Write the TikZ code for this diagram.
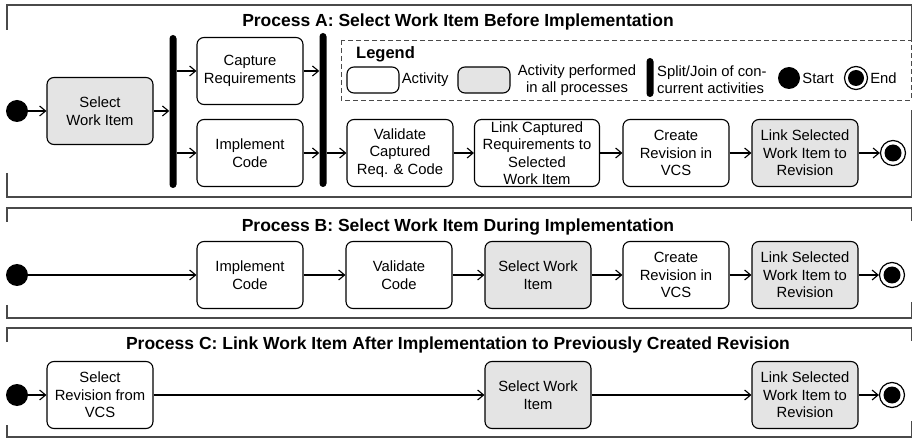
\documentclass[tikz,border=0pt]{standalone}
\usepackage{fontspec}
\setmainfont{Liberation Sans}
\usetikzlibrary{arrows.meta}
\definecolor{actgray}{HTML}{E4E4E4}
\definecolor{framegray}{HTML}{4A4A4A}
\begin{document}
\begin{tikzpicture}[x=1pt,y=-1pt,>={Straight Barb[length=6pt,width=10pt]}] % activity diagrams
\tikzstyle{act} = [draw, rounded corners=7pt, line width=1.1pt, minimum width=106pt, minimum height=67pt, align=center, inner sep=1pt, font=\fontsize{14.8}{17.5}\selectfont] % activity node style
\tikzstyle{allact} = [act, fill=actgray] % activity performed in all processes
\tikzstyle{bar} = [fill, rounded corners=3.5pt, minimum width=7pt, inner sep=0pt] % split/join bar
\tikzstyle{startdot} = [circle, fill, minimum size=22pt, inner sep=0pt] % start node style
\tikzstyle{enddot} = [circle, draw, line width=1.2pt, minimum size=25pt, inner sep=0pt, path picture={\fill (path picture bounding box.center) circle (8.5pt);}] % end node style
\tikzstyle{proctitle} = [font=\bfseries\fontsize{17.5}{21}\selectfont] % process title
\tikzstyle{legtext} = [font=\fontsize{14.8}{17}\selectfont, inner sep=2pt]
\tikzstyle{frame} = [draw=framegray, line width=1.3pt]
\tikzstyle{flow} = [->, line width=1.1pt]
\useasboundingbox (0,0) rectangle (913,438);

% frames
\draw[frame] (7,30) -- (7,5) -- (911.5,5) -- (911.5,40);
\draw[frame] (7,173) -- (7,197) -- (911.5,197) -- (911.5,110);
\draw[frame] (7,222) -- (7,208) -- (911.5,208) -- (911.5,221);
\draw[frame] (7,305) -- (7,318) -- (911.5,318) -- (911.5,302);
\draw[frame] (7,342) -- (7,328) -- (911.5,328) -- (911.5,341);
\draw[frame] (7,425) -- (7,437) -- (911.5,437) -- (911.5,421);

% Process A
\node[proctitle] (titlea) at (458,22) {Process A: Select Work Item Before Implementation};
\node[startdot] (a0) at (17,111) {};
\node[allact] (aselect) at (100,111) {Select\\Work Item};
\node[bar, minimum height=153pt] (asplit) at (173,111.5) {};
\node[act] (acapture) at (250,71) {Capture\\Requirements};
\node[act] (aimpl) at (250,153) {Implement\\Code};
\node[bar, minimum height=154pt] (ajoin) at (323,110) {};
\node[act] (avalid) at (400,153) {Validate\\Captured\\Req. \& Code};
\node[act, minimum width=125pt] (alink) at (537,153) {Link Captured\\Requirements to\\Selected\\Work Item};
\node[act] (arev) at (676,153) {Create\\Revision in\\VCS};
\node[allact] (alinksel) at (805,153) {Link Selected\\Work Item to\\Revision};
\node[enddot] (aend) at (893,153) {};

\draw[flow] (a0) -- (aselect);
\draw[flow] (aselect.east) -- (aselect.east -| asplit.west);
\draw[flow] (acapture.west -| asplit.east) -- (acapture.west);
\draw[flow] (aimpl.west -| asplit.east) -- (aimpl.west);
\draw[flow] (acapture.east) -- (acapture.east -| ajoin.west);
\draw[flow] (aimpl.east) -- (aimpl.east -| ajoin.west);
\draw[flow] (avalid.west -| ajoin.east) -- (avalid.west);
\draw[flow] (avalid) -- (alink);
\draw[flow] (alink) -- (arev);
\draw[flow] (arev) -- (alinksel);
\draw[flow] (alinksel) -- (aend);

% legend
\draw[dashed, dash pattern=on 5pt off 3pt, line width=0.9pt, framegray] (341,40) rectangle (911,100);
\node[anchor=west, font=\bfseries\fontsize{16.5}{19}\selectfont, inner sep=0pt] (legtitle) at (356,54) {Legend};
\node[act, minimum width=52pt, minimum height=26pt] (legact) at (373,80) {};
\node[legtext, anchor=west] (legacttxt) at (legact.east) {Activity};
\node[allact, minimum width=52pt, minimum height=26pt] (legall) at (484,80) {};
\node[legtext, align=center] (legalltxt) at (577,80) {Activity performed\\in all processes};
\node[bar, minimum height=39pt] (legbar) at (650,77.5) {};
\node[legtext, anchor=west, align=left] (legbartxt) at (655,80) {Split/Join of con-\\current activities};
\node[startdot] (legstart) at (789,78) {};
\node[legtext, anchor=west] (legstarttxt) at (legstart.east) {Start};
\node[enddot, minimum size=23pt, path picture={\fill (path picture bounding box.center) circle (8pt);}] (legfin) at (856,78) {};
\node[legtext, anchor=west] (legfintxt) at (legfin.east) {End};

% Process B
\node[proctitle] (titleb) at (458,227) {Process B: Select Work Item During Implementation};
\node[startdot] (b0) at (17,275) {};
\node[act] (bimpl) at (250,275) {Implement\\Code};
\node[act] (bvalid) at (399,275) {Validate\\Code};
\node[allact] (bselect) at (538,275) {Select Work\\Item};
\node[act] (brev) at (676,275) {Create\\Revision in\\VCS};
\node[allact] (blinksel) at (805,275) {Link Selected\\Work Item to\\Revision};
\node[enddot] (bend) at (892,275) {};

\draw[flow] (b0) -- (bimpl);
\draw[flow] (bimpl) -- (bvalid);
\draw[flow] (bvalid) -- (bselect);
\draw[flow] (bselect) -- (brev);
\draw[flow] (brev) -- (blinksel);
\draw[flow] (blinksel) -- (bend);

% Process C
\node[proctitle] (titlec) at (458,345) {Process C: Link Work Item After Implementation to Previously Created Revision};
\node[startdot] (c0) at (17,395) {};
\node[act] (crev) at (100,395) {Select\\Revision from\\VCS};
\node[allact] (cselect) at (538,395) {Select Work\\Item};
\node[allact] (clinksel) at (805,395) {Link Selected\\Work Item to\\Revision};
\node[enddot] (cend) at (892,395) {};

\draw[flow] (c0) -- (crev);
\draw[flow] (crev) -- (cselect);
\draw[flow] (cselect) -- (clinksel);
\draw[flow] (clinksel) -- (cend);
\end{tikzpicture}
\end{document}
